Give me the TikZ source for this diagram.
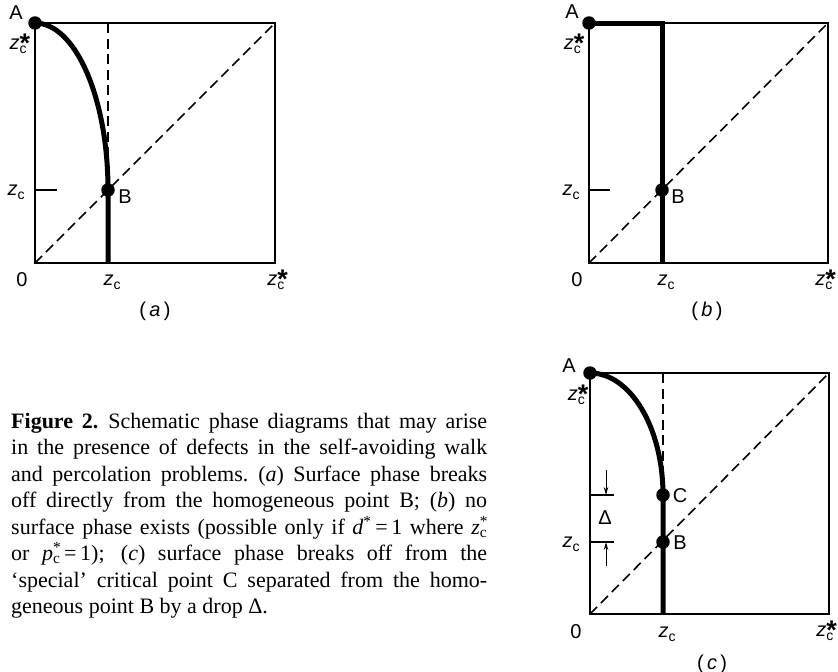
\documentclass[tikz,border=0pt]{standalone}
\usepackage{fontspec}
\setmainfont{Liberation Serif}
\newfontfamily\labfont{Liberation Sans}
\usetikzlibrary{arrows.meta}
\newcommand\zlo{{\itshape z}\raisebox{-4pt}{\fontsize{14}{14}\selectfont c}}
\newcommand\zhi{{\itshape z}\rlap{\raisebox{-4pt}{\fontsize{14}{14}\selectfont c}}\raisebox{-3pt}{\fontsize{27}{27}\selectfont\bfseries *}}
\newcommand\capsup[2]{\textit{#1}\rlap{\textsuperscript{*}}\textsubscript{#2}}
\begin{document}
\begin{tikzpicture}[x=1pt,y=-1pt,
  boxline/.style={line width=1.6pt},
  dline/.style={line width=1.6pt,dash pattern=on 10pt off 5.5pt},
  heavy/.style={line width=5pt},
  dot/.style={circle,fill=black,inner sep=0pt,minimum size=13.5pt},
  lab/.style={font=\labfont\fontsize{20}{20}\selectfont,inner sep=0pt},
  darrow/.style={line width=1pt,-{Stealth[length=8pt,width=4.5pt]}}]
\useasboundingbox (0,0) rectangle (838,672);

% ---------------- panel (a)
\coordinate (aO) at (35,263);
\coordinate (aX) at (275,263);
\coordinate (aT) at (275,23);
\coordinate (aA0) at (35,23);
\coordinate (aZt) at (108,23);
\coordinate (aZb) at (108,263);
\coordinate (aB0) at (108,190);
\coordinate (aTk0) at (35,190);
\coordinate (aTk) at (57,190);
\draw[boxline] (aO) -- (aX) -- (aT) -- (aA0) -- cycle;
\draw[boxline] (aTk0) -- (aTk);
\draw[dline] (aO) -- (aT);
\draw[dline] (aZt) -- (aB0);
\draw[heavy] (aA0) .. controls (75.3,23) and (108,97.8) .. (aB0) -- (aZb);
\node[dot] (aA) at (aA0) {};
\node[dot] (aB) at (aB0) {};
\node[lab] (aLA) at (16,13) {A};
\node[lab] (aLzs) at (20,44) {\zhi};
\node[lab] (aLz) at (16,192) {\zlo};
\node[lab] (aL0) at (22,280) {0};
\node[lab] (aLzb) at (112,282) {\zlo};
\node[lab,anchor=east] (aLzsb) at (288,280) {\zhi};
\node[lab] (aLB) at (125,197) {B};
\node[lab] (aCap) at (155,311) {(\,\textit{a}\,)};

% ---------------- panel (b)
\coordinate (bO) at (589,263);
\coordinate (bX) at (828,263);
\coordinate (bT) at (828,23);
\coordinate (bA0) at (589,23);
\coordinate (bZt) at (662,23);
\coordinate (bZb) at (662,263);
\coordinate (bB0) at (662,190);
\coordinate (bTk0) at (589,190);
\coordinate (bTk) at (610,190);
\draw[boxline] (bO) -- (bX) -- (bT) -- (bA0) -- cycle;
\draw[boxline] (bTk0) -- (bTk);
\draw[dline] (bO) -- (bT);
\draw[heavy] (bA0) -- (bZt) -- (bZb);
\node[dot] (bA) at (bA0) {};
\node[dot] (bB) at (bB0) {};
\node[lab] (bLA) at (572,12) {A};
\node[lab] (bLzs) at (574,44) {\zhi};
\node[lab] (bLz) at (571,192) {\zlo};
\node[lab] (bL0) at (577,280) {0};
\node[lab] (bLzb) at (666,282) {\zlo};
\node[lab,anchor=east] (bLzsb) at (836,280) {\zhi};
\node[lab] (bLB) at (678,197) {B};
\node[lab] (bCap) at (707,311) {(\,\textit{b}\,)};

% ---------------- panel (c)
\coordinate (cO) at (590,614);
\coordinate (cX) at (829,614);
\coordinate (cT) at (829,373);
\coordinate (cA0) at (590,373);
\coordinate (cZt) at (663,373);
\coordinate (cZb) at (663,614);
\coordinate (cC0) at (663,495);
\coordinate (cB0) at (663,542);
\coordinate (cTkC0) at (590,495);
\coordinate (cTkC) at (614,495);
\coordinate (cTkB0) at (590,542);
\coordinate (cTkB) at (614,542);
\coordinate (cArDs) at (606,470);
\coordinate (cArDe) at (606,495);
\coordinate (cArUs) at (606,566);
\coordinate (cArUe) at (606,542);
\draw[boxline] (cO) -- (cX) -- (cT) -- (cA0) -- cycle;
\draw[boxline] (cTkC0) -- (cTkC);
\draw[boxline] (cTkB0) -- (cTkB);
\draw[darrow] (cArDs) -- (cArDe);
\draw[darrow] (cArUs) -- (cArUe);
\draw[dline] (cO) -- (cT);
\draw[dline] (cZt) -- (cC0);
\draw[heavy] (cA0) .. controls (630.3,373) and (663,427.6) .. (cC0) -- (cZb);
\node[dot] (cA) at (cA0) {};
\node[dot] (cC) at (cC0) {};
\node[dot] (cB) at (cB0) {};
\node[lab] (cLA) at (569,366) {A};
\node[lab] (cLzs) at (578,395) {\zhi};
\node[lab] (cLz) at (571,544) {\zlo};
\node[lab] (cLD) at (605,518) {Δ};
\node[lab] (cL0) at (576,632) {0};
\node[lab] (cLzb) at (667,634) {\zlo};
\node[lab,anchor=east] (cLzsb) at (837,631) {\zhi};
\node[lab] (cLC) at (680,496) {C};
\node[lab] (cLB) at (680,543) {B};
\node[lab] (cCap) at (712,664) {(\,\textit{c}\,)};

% ---------------- caption
\node[anchor=base west,text width=476pt,align=justify,inner sep=0pt,
      font=\fontsize{22}{26.5}\selectfont] (caption) at (11,428)
{\textbf{Figure 2.}\hspace{0.45em}Schematic phase diagrams that may arise\linebreak
in the presence of defects in the self-avoiding walk\linebreak
and percolation problems.\hspace{0.45em}(\textit{a}) Surface phase breaks\linebreak
off directly from the homogeneous point B; (\textit{b}) no\linebreak
surface phase exists (possible only if \textit{d}\textsuperscript{*}\,=\,1 where \capsup{z}{c}\linebreak
or \capsup{p}{c}\,=\,1); (\textit{c}) surface phase breaks off from the\linebreak
‘special’ critical point C separated from the homo-\linebreak
geneous point B by a drop Δ.};
\end{tikzpicture}
\end{document}
